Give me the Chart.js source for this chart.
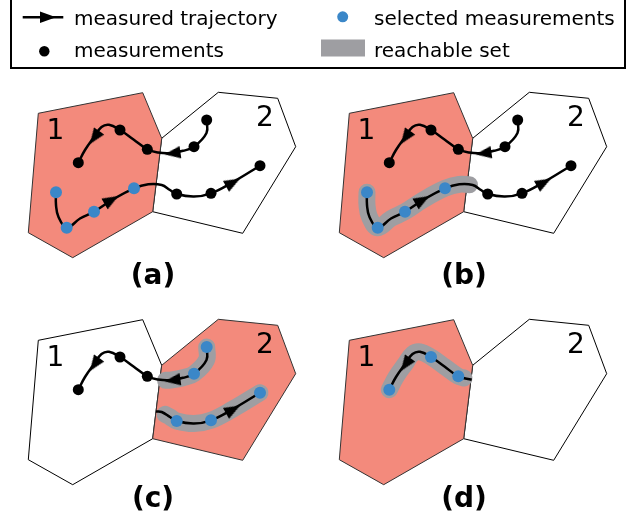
<!DOCTYPE html>
<html lang="en">
<head>
    <meta charset="UTF-8">
    <title>reachable set panels</title>
    <script src="https://cdn.jsdelivr.net/npm/chart.js@4"></script>
    <style>
        body { margin: 0; background: #fff; font-family: 'DejaVu Sans', sans-serif; color: #000; }
        #wrap { position: relative; width: 641px; height: 518px; overflow: hidden; }
        #myChart { position: absolute; left: 0; top: 0; }
        .legendBox { position: absolute; left: 10px; top: -6px; width: 616px; height: 75px; border: 2px solid #000; box-sizing: border-box; }
        .txt { position: absolute; font-size: 20px; line-height: 20px; white-space: nowrap; }
        .num { position: absolute; font-size: 28px; line-height: 28px; width: 40px; text-align: center; }
        .tag { position: absolute; font-size: 28px; line-height: 28px; font-weight: bold; width: 80px; text-align: center; }
        svg { position: absolute; left: 0; top: 0; }
    </style>
</head>
<body>
<div id="wrap">
    <canvas id="myChart" width="641" height="518"></canvas>

    <div class="legendBox"></div>
    <svg width="641" height="75">
        <line x1="22.7" y1="17.3" x2="63.3" y2="17.3" stroke="#000" stroke-width="2.5"/>
        <polygon points="56,17.3 40,11.5 40,23.1" fill="#000"/>
        <circle cx="44.3" cy="51.3" r="5.2" fill="#000"/>
        <circle cx="342.7" cy="16.8" r="5.5" fill="#3b87c8"/>
        <rect x="321" y="39.5" width="44" height="17" fill="#9e9ea2"/>
    </svg>
    <div class="txt" style="left:74px; top:8px;">measured trajectory</div>
    <div class="txt" style="left:74px; top:40px;">measurements</div>
    <div class="txt" style="left:374px; top:8px;">selected measurements</div>
    <div class="txt" style="left:374px; top:40px;">reachable set</div>

    <div class="tag" style="left:113px; top:261px;">(a)</div>
    <div class="tag" style="left:424px; top:261px;">(b)</div>
    <div class="tag" style="left:113px; top:484px;">(c)</div>
    <div class="tag" style="left:424px; top:484px;">(d)</div>
</div>

<script>
    // panel top-left shifts (panel (a) is the reference frame)
    const panelOrigins = [[0, 0], [311, 0], [0, 227], [311, 227]];

    // the two regions
    const region1 = [[38.3, 113.3], [142.7, 92.7], [161.7, 138.3], [152.7, 211.7], [72.7, 257.7], [28.3, 232.7]];
    const region2 = [[161.7, 138.3], [218.3, 92.3], [277.7, 98.3], [295.7, 146.7], [242.7, 233.3], [152.7, 211.7]];

    // measured trajectories (waypoints)
    const upperPath = [[206.7, 120], [206.5, 133], [194, 146.7], [183, 150.8], [170, 153.2], [158, 152.5], [147.3, 149.3],
        [133.5, 139.5], [120, 130], [109, 124.8], [101.5, 127], [94.5, 136.5], [85, 150], [78.3, 162.7]];
    const lowerPath = [[56, 192.3], [56, 205], [58.5, 217], [66.7, 227.7], [80, 218.5], [94, 211.7], [112, 200], [134, 188.3],
        [148.3, 184.3], [161.7, 185], [170, 190], [176.7, 194], [194, 196.5], [211, 193.3], [233, 182], [260, 165.7]];

    // pieces of the trajectories inside one region
    const upperIn1 = [[160.7, 152.8], [147.3, 149.3], [133.5, 139.5], [120, 130], [109, 124.8], [101.5, 127], [94.5, 136.5], [85, 150], [78.3, 162.7]];
    const lowerIn2 = [[156, 184.5], [161.7, 185], [170, 190], [176.7, 194], [194, 196.5], [211, 193.3], [233, 182], [260, 165.7]];

    // reachable sets (centre lines of the grey bands)
    const reachB = [[56, 192.3], [56, 205], [58.5, 217], [66.7, 227.7], [80, 218.5], [94, 211.7], [112, 200], [134, 188.3], [148.3, 184.3], [158.5, 184.7]];
    const reachC1 = [[206.7, 120], [206.5, 133], [194, 146.7], [183, 150.8], [170, 153.2], [165.5, 153.3]];
    const reachC2 = [[165, 187.3], [170, 190], [176.7, 194], [194, 196.5], [211, 193.3], [233, 182], [260, 165.7]];
    const reachD = [[153, 151], [147.3, 149.3], [133.5, 139.5], [120, 130], [109, 124.8], [101.5, 127], [94.5, 136.5], [85, 150], [78.3, 162.7]];

    // measurements
    const upperMeas = [[206.7, 120], [194, 146.7], [147.3, 149.3], [120, 130], [78.3, 162.7]];
    const lowerMeas = [[56, 192.3], [66.7, 227.7], [94, 211.7], [134, 188.3], [176.7, 194], [211, 193.3], [260, 165.7]];

    // arrow heads: x, y, heading (deg, clockwise from up)
    const upperArrows = [[172.5, 153.3, -98], [94.5, 137.5, -145]];
    const lowerArrows = [[111.5, 200, 60], [233, 182.5, 61]];

    const panels = [
        { red: region1, white: region2, lines: [upperPath, lowerPath], tubes: [],
          black: upperMeas.concat(lowerMeas.slice(4)), blue: lowerMeas.slice(0, 4), arrows: upperArrows.concat(lowerArrows) },
        { red: region1, white: region2, lines: [upperPath, lowerPath], tubes: [reachB],
          black: upperMeas.concat(lowerMeas.slice(4)), blue: lowerMeas.slice(0, 4), arrows: upperArrows.concat(lowerArrows) },
        { red: region2, white: region1, lines: [upperPath, lowerIn2], tubes: [reachC1, reachC2],
          black: upperMeas.slice(2), blue: upperMeas.slice(0, 2).concat(lowerMeas.slice(4)), arrows: upperArrows.concat(lowerArrows.slice(1)) },
        { red: region1, white: region2, lines: [upperIn1], tubes: [reachD],
          black: [], blue: upperMeas.slice(2), arrows: [upperArrows[1]] }
    ];

    const regionLabels = [['1', 55.5, 116], ['2', 264.8, 103]];

    function shift(pts, o) {
        return pts.map(p => ({ x: p[0] + o[0], y: p[1] + o[1] }));
    }

    function arrowHead() {
        const c = document.createElement('canvas');
        c.width = 18;
        c.height = 18;
        const g = c.getContext('2d');
        g.fillStyle = '#000';
        g.beginPath();
        g.moveTo(9, 1);
        g.lineTo(15.2, 17);
        g.lineTo(2.8, 17);
        g.closePath();
        g.fill();
        return c;
    }
    const headImg = arrowHead();

    const datasets = [];
    panels.forEach((p, i) => {
        const o = panelOrigins[i];
        [[p.red, '#f38a7c', '#333'], [p.white, '#ffffff', '#000']].forEach(([poly, bg, edge]) => {
            datasets.push({
                data: shift(poly.concat([poly[0]]), o),
                showLine: true, fill: 'shape', backgroundColor: bg, borderColor: edge,
                borderWidth: 1, pointRadius: 0, tension: 0, order: 10
            });
        });
        p.tubes.forEach(t => datasets.push({
            data: shift(t, o), showLine: true, fill: false, borderColor: '#9e9ea2', borderWidth: 17,
            borderCapStyle: 'round', borderJoinStyle: 'round', pointRadius: 0, tension: 0.4, order: 8
        }));
        p.lines.forEach(l => datasets.push({
            data: shift(l, o), showLine: true, fill: false, borderColor: '#000', borderWidth: 2.5,
            pointRadius: 0, tension: 0.4, order: 6
        }));
        datasets.push({
            data: shift(p.black, o), showLine: false, pointRadius: 5.5,
            pointBackgroundColor: '#000', pointBorderWidth: 0, order: 4
        });
        datasets.push({
            data: shift(p.blue, o), showLine: false, pointRadius: 6,
            pointBackgroundColor: '#3b87c8', pointBorderWidth: 0, order: 4
        });
        datasets.push({
            data: shift(p.arrows, o), showLine: false, pointStyle: headImg, pointRadius: 8,
            pointRotation: p.arrows.map(a => a[2]), order: 2
        });

        regionLabels.forEach(([t, x, y]) => {
            const d = document.createElement('div');
            d.className = 'num';
            d.textContent = t;
            d.style.left = (x + o[0] - 20) + 'px';
            d.style.top = (y + o[1]) + 'px';
            document.getElementById('wrap').appendChild(d);
        });
    });

    const ctx = document.getElementById('myChart').getContext('2d');
    new Chart(ctx, {
        type: 'scatter',
        data: { datasets: datasets },
        options: {
            responsive: false,
            animation: false,
            events: [],
            layout: { padding: 0, autoPadding: false },
            plugins: { legend: { display: false }, tooltip: { enabled: false } },
            scales: {
                x: { type: 'linear', min: 0, max: 641, display: false },
                y: { type: 'linear', min: 0, max: 518, reverse: true, display: false }
            }
        }
    });
</script>
</body>
</html>
